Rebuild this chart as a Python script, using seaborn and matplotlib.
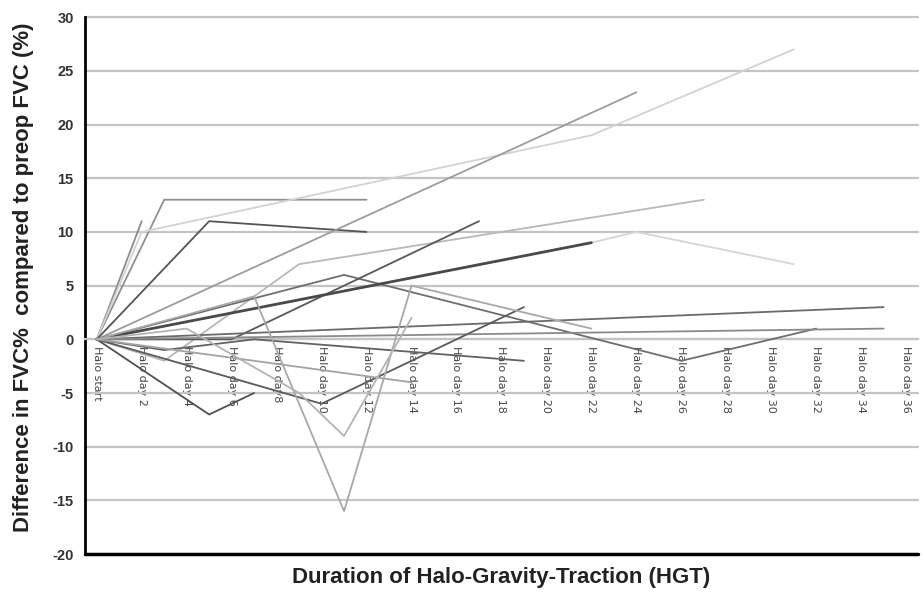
import numpy as np
import pandas as pd
import seaborn as sns
import matplotlib.pyplot as plt

# -------------------------------
#  Datos (día de tracción, diferencia FVC %)
# -------------------------------
tick_days = [0, 2, 4, 6, 8, 10, 12, 14, 16, 18, 20, 22, 24, 26, 28, 30, 32, 34, 36]
tick_labels = ["Halo start"] + ["Halo day %d" % d for d in tick_days[1:]]
tick_labels[4] = "Halo day8"

p01_days = [0, 2];                 p01_vals = [0, 11]
p02_days = [0, 3, 12];             p02_vals = [0, 13, 13]
p03_days = [0, 2, 22, 31];         p03_vals = [0, 10, 19, 27]
p04_days = [0, 5, 12];             p04_vals = [0, 11, 10]
p05_days = [0, 24];                p05_vals = [0, 23]
p06_days = [0, 3, 9, 27];          p06_vals = [0, -2, 7, 13]
p07_days = [0, 11, 26, 32];        p07_vals = [0, 6, -2, 1]
p08_days = [0, 6, 17];             p08_vals = [0, 0, 11]
p09_days = [0, 22, 24, 31];        p09_vals = [0, 9, 10, 7]
p10_days = [0, 22];                p10_vals = [0, 9]
p11_days = [0, 35];                p11_vals = [0, 3]
p12_days = [0, 35];                p12_vals = [0, 1]
p13_days = [0, 5, 7];              p13_vals = [0, -7, -5]
p14_days = [0, 10, 19];            p14_vals = [0, -6, 3]
p15_days = [0, 3, 7, 19];          p15_vals = [0, -1, 0, -2]
p16_days = [0, 14];                p16_vals = [0, -4]
p17_days = [0, 7, 11, 14, 22];     p17_vals = [0, 4, -16, 5, 1]
p18_days = [0, 4, 9, 11, 14];      p18_vals = [0, 1, -5, -9, 2]

patients = ["p01", "p02", "p03", "p04", "p05", "p06", "p07", "p08", "p09",
            "p10", "p11", "p12", "p13", "p14", "p15", "p16", "p17", "p18"]
all_days = [p01_days, p02_days, p03_days, p04_days, p05_days, p06_days, p07_days,
            p08_days, p09_days, p10_days, p11_days, p12_days, p13_days, p14_days,
            p15_days, p16_days, p17_days, p18_days]
all_vals = [p01_vals, p02_vals, p03_vals, p04_vals, p05_vals, p06_vals, p07_vals,
            p08_vals, p09_vals, p10_vals, p11_vals, p12_vals, p13_vals, p14_vals,
            p15_vals, p16_vals, p17_vals, p18_vals]
line_colors = ["#8c8c8c", "#8f8f8f", "#d2d2d2", "#555555", "#9c9c9c", "#b8b8b8",
               "#6e6e6e", "#585858", "#d5d5d5", "#4a4a4a", "#6a6a6a", "#8a8a8a",
               "#505050", "#5a5a5a", "#626262", "#a3a3a3", "#a8a8a8", "#b3b3b3"]
line_widths = [1.3] * 18
line_widths[9] = 2.0

rows = []
for pid, ds, vs in zip(patients, all_days, all_vals):
    for d, v in zip(ds, vs):
        rows.append({"patient": pid, "day": d, "value": v})
df = pd.DataFrame(rows)

# -------------------------------
#  Figura
# -------------------------------
sns.set_style("white")
plt.rcParams['font.family'] = ['Liberation Sans', 'DejaVu Sans']

fig = plt.figure(figsize=(9.22, 5.92), dpi=100)
ax = fig.add_axes([0.092, 0.064, 0.904, 0.907])

for y in range(-15, 31, 5):
    ax.axhline(y, color="#c4c4c4", linewidth=1.6, zorder=1, clip_on=False)

for pid, col, lw in zip(patients, line_colors, line_widths):
    sns.lineplot(data=df[df["patient"] == pid], x="day", y="value", color=col,
                 linewidth=lw, sort=False, estimator=None, ax=ax, zorder=3)

ax.set_xlim(-0.53, 36.54)
ax.set_ylim(-20, 30)
ax.set_yticks(range(-20, 31, 5))
ax.set_yticklabels([str(v) for v in range(-20, 31, 5)], fontsize=10.5,
                   fontweight="bold", color="#333333")
ax.tick_params(axis="y", length=0, pad=8)

# etiquetas del eje x sobre la línea cero
ax.spines["bottom"].set_position(("data", 0))
ax.spines["bottom"].set_color("#c4c4c4")
ax.spines["bottom"].set_linewidth(1.6)
ax.set_xticks(tick_days)
ax.set_xticklabels(tick_labels, rotation=270, fontsize=8, color="#444444",
                   family="DejaVu Sans")
ax.tick_params(axis="x", length=0, pad=5)

ax.spines["top"].set_visible(False)
ax.spines["right"].set_visible(False)
ax.spines["left"].set_color("black")
ax.spines["left"].set_linewidth(2)
ax.axhline(-20, color="black", linewidth=2.5, zorder=4, clip_on=False)

ax.set_xlabel("")
ax.set_ylabel("")
fig.text(0.544, 0.024, "Duration of Halo-Gravity-Traction (HGT)", ha="center",
         va="center", fontsize=16, fontweight="bold", color="#222222")
fig.text(0.025, 0.532, "Difference in FVC%  compared to preop FVC (%)", ha="center",
         va="center", rotation=90, fontsize=16, fontweight="bold", color="#222222")

fig.savefig("out.png", dpi=100)
